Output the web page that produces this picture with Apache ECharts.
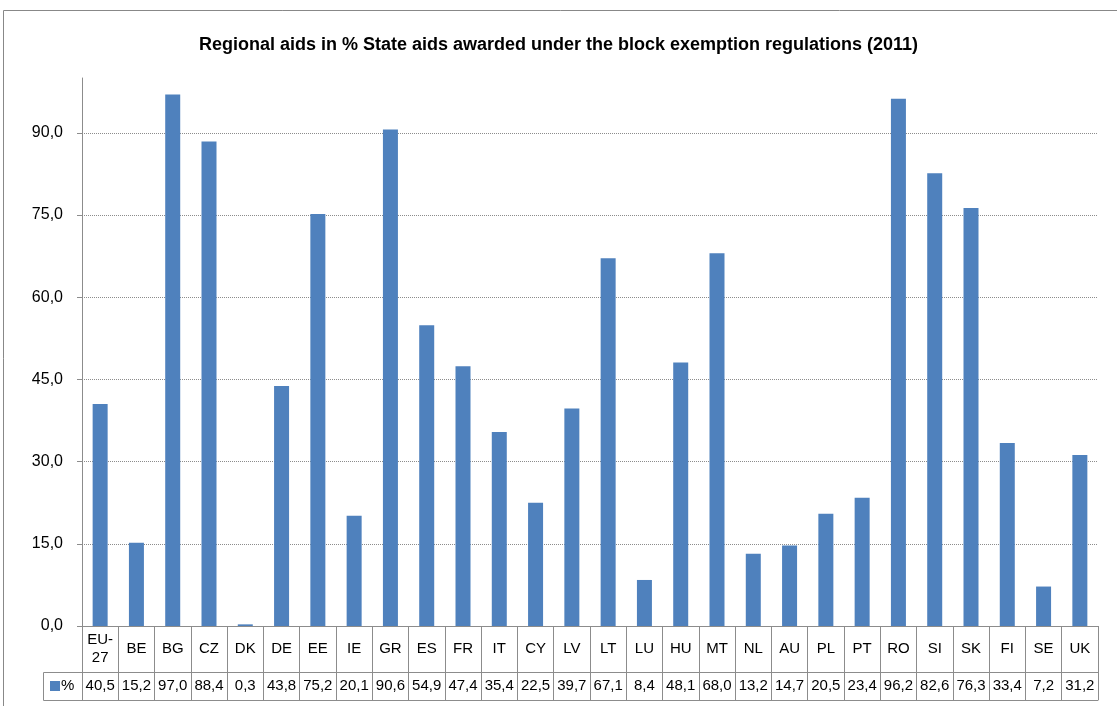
<!DOCTYPE html>
<html><head><meta charset="utf-8">
<script src="https://cdn.jsdelivr.net/npm/echarts@6/dist/echarts.min.js"></script>
<style>html,body{margin:0;padding:0;background:#fff}#c{width:1117px;height:706px}</style>
</head><body><div id="c"></div>
<script>
const categories = ['EU-27','BE','BG','CZ','DK','DE','EE','IE','GR','ES','FR','IT','CY','LV','LT','LU','HU','MT','NL','AU','PL','PT','RO','SI','SK','FI','SE','UK'];
const values = [40.5,15.2,97.0,88.4,0.3,43.8,75.2,20.1,90.6,54.9,47.4,35.4,22.5,39.7,67.1,8.4,48.1,68.0,13.2,14.7,20.5,23.4,96.2,82.6,76.3,33.4,7.2,31.2];
const seriesName = '%';
const yTicks = {min: 0, max: 100, interval: 15};

const fmt = v => v.toFixed(1).replace('.', ',');
const gray = '#8c8c8c';
const font = 'Liberation Sans, Arial, sans-serif';
const chart = echarts.init(document.getElementById('c'));
chart.setOption({
  animation: false,
  title: {
    text: 'Regional aids in % State aids awarded under the block exemption regulations (2011)',
    left: 'center', top: 31,
    textStyle: {fontFamily: font, fontSize: 18, fontWeight: 'bold', color: '#000'}
  },
  grid: {left: 82, right: 19, top: 78, bottom: 80, containLabel: false},
  xAxis: [
    {
      type: 'category', data: categories, position: 'bottom',
      axisLine: {show: true, lineStyle: {color: gray, width: 1}},
      axisTick: {show: true, length: 46, lineStyle: {color: gray}},
      axisLabel: {
        margin: 23, verticalAlign: 'middle', interval: 0,
        fontFamily: font, fontSize: 15, color: '#000', lineHeight: 18,
        formatter: n => n === 'EU-27' ? 'EU-\n27' : n
      }
    },
    {
      type: 'category', data: categories, position: 'bottom', offset: 46,
      axisLine: {show: true, lineStyle: {color: gray, width: 1}},
      axisTick: {show: true, length: 28, lineStyle: {color: gray}},
      axisLabel: {
        margin: 14, verticalAlign: 'middle', interval: 0,
        fontFamily: font, fontSize: 15, color: '#000',
        formatter: (n, i) => fmt(values[i])
      }
    },
    {
      type: 'category', data: categories, position: 'bottom', offset: 74,
      axisLine: {show: true, lineStyle: {color: gray, width: 1}},
      axisTick: {show: false}, axisLabel: {show: false}
    }
  ],
  yAxis: {
    type: 'value', min: yTicks.min, max: yTicks.max, interval: yTicks.interval,
    axisLine: {show: true, lineStyle: {color: gray}},
    axisTick: {show: true, length: 5, lineStyle: {color: gray}},
    axisLabel: {
      margin: 19, fontFamily: font, fontSize: 16, color: '#000',
      showMaxLabel: false, formatter: v => fmt(v)
    },
    splitLine: {show: true, showMaxLine: false, lineStyle: {color: '#8c8c8c', type: [1, 1], width: 1}}
  },
  series: [{
    name: seriesName, type: 'bar', data: values, xAxisIndex: 0,
    barWidth: 15, itemStyle: {color: '#4f81bd'}
  }],
  graphic: [
    {type: 'rect', shape: {x: 3.5, y: 10.5, width: 1130, height: 720}, style: {fill: 'none', stroke: '#888', lineWidth: 1}, silent: true},
    {type: 'line', shape: {x1: 43.5, y1: 672.5, x2: 82, y2: 672.5}, style: {stroke: gray, lineWidth: 1}},
    {type: 'line', shape: {x1: 43.5, y1: 700.5, x2: 82, y2: 700.5}, style: {stroke: gray, lineWidth: 1}},
    {type: 'line', shape: {x1: 43.5, y1: 672.5, x2: 43.5, y2: 700.5}, style: {stroke: gray, lineWidth: 1}},
    {type: 'line', shape: {x1: 82.5, y1: 626, x2: 82.5, y2: 700.5}, style: {stroke: gray, lineWidth: 1}},
    {type: 'rect', shape: {x: 50, y: 681, width: 10, height: 10}, style: {fill: '#4f81bd'}},
    {type: 'text', x: 61, y: 686, style: {text: seriesName, fontFamily: font, fontSize: 15, fill: '#000', verticalAlign: 'middle'}}
  ]
});
</script></body></html>
